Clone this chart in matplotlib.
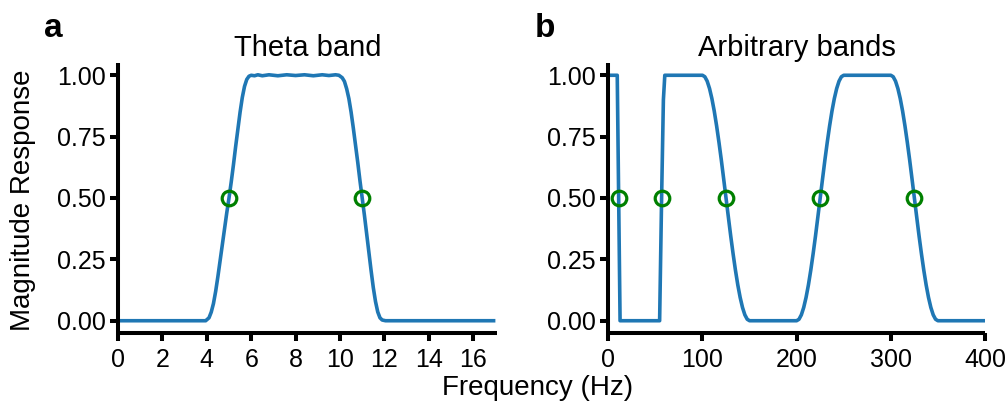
import matplotlib
matplotlib.use("Agg")
import matplotlib.pyplot as plt

plt.rcParams['font.family'] = ['Liberation Sans', 'DejaVu Sans']

# Panel a: theta band magnitude response
theta_freq = [0, 1, 2, 3, 3.5, 3.95, 4.1, 4.2, 4.3, 4.4, 4.5, 4.6, 4.7, 4.8, 4.9, 5.0, 5.1, 5.2, 5.3,
              5.4, 5.5, 5.6, 5.7, 5.8, 5.9, 6.0, 6.15, 6.3, 6.5, 6.8, 7.2, 7.6, 8.0, 8.4, 8.8, 9.2,
              9.5, 9.8, 9.95, 10.1, 10.2, 10.3, 10.4, 10.5, 10.6, 10.7, 10.8, 10.9, 11.0, 11.1, 11.2,
              11.3, 11.4, 11.5, 11.6, 11.7, 11.8, 11.9, 12.05, 12.5, 13, 14, 15, 16, 17]
theta_mag = [0, 0, 0, 0, 0, 0.0, 0.012, 0.035, 0.07, 0.12, 0.18, 0.245, 0.31, 0.375, 0.44, 0.5, 0.565,
             0.635, 0.71, 0.78, 0.85, 0.91, 0.955, 0.983, 0.996, 1.0, 0.998, 1.002, 0.998, 1.002, 0.998,
             1.002, 0.999, 1.002, 0.998, 1.002, 0.999, 1.002, 1.0, 0.99, 0.975, 0.945, 0.905, 0.85,
             0.785, 0.715, 0.645, 0.57, 0.5, 0.43, 0.355, 0.28, 0.205, 0.135, 0.078, 0.036, 0.012, 0.003, 0,
             0, 0, 0, 0, 0, 0]
theta_cut = [5, 11]

# Panel b: arbitrary bands magnitude response
arb_freq = [0, 5, 9.5, 11, 12.5, 30, 54.5, 56.6, 58.5, 60.0, 80,
            100, 102.5, 105, 107.5, 110, 112.5, 115, 117.5, 120, 122.5, 125, 127.5, 130, 132.5, 135,
            137.5, 140, 142.5, 145, 147.5, 150, 175,
            200, 202.5, 205, 207.5, 210, 212.5, 215, 217.5, 220, 222.5, 225, 227.5, 230, 232.5, 235,
            237.5, 240, 242.5, 245, 247.5, 250, 275,
            300, 302.5, 305, 307.5, 310, 312.5, 315, 317.5, 320, 322.5, 325, 327.5, 330, 332.5, 335,
            337.5, 340, 342.5, 345, 347.5, 350, 375, 400]
arb_mag = [1, 1, 1, 0.5, 0, 0, 0, 0.5, 0.9, 1, 1,
           1, 0.994, 0.976, 0.946, 0.905, 0.854, 0.794, 0.727, 0.655, 0.578, 0.5, 0.422, 0.345, 0.273,
           0.206, 0.146, 0.095, 0.054, 0.024, 0.006, 0, 0,
           0, 0.006, 0.024, 0.054, 0.095, 0.146, 0.206, 0.273, 0.345, 0.422, 0.5, 0.578, 0.655, 0.727,
           0.794, 0.854, 0.905, 0.946, 0.976, 0.994, 1, 1,
           1, 0.994, 0.976, 0.946, 0.905, 0.854, 0.794, 0.727, 0.655, 0.578, 0.5, 0.422, 0.345, 0.273,
           0.206, 0.146, 0.095, 0.054, 0.024, 0.006, 0, 0, 0]
arb_cut = [11, 57, 125, 225, 325]

titles = ["Theta band", "Arbitrary bands"]
panel_letters = ["a", "b"]
yticks = [0.0, 0.25, 0.5, 0.75, 1.0]
xticks_a = [0, 2, 4, 6, 8, 10, 12, 14, 16]
xticks_b = [0, 100, 200, 300, 400]

line_color = "#1f77b4"
marker_color = "#008000"

fig = plt.figure(figsize=(10.07, 4.13), dpi=100)
W, H = 1007, 413
ax_a = fig.add_axes([118/W, 1 - 333/H, (496.5 - 118)/W, (333 - 63)/H])
ax_b = fig.add_axes([608.3/W, 1 - 333/H, (985 - 608.3)/W, (333 - 63)/H])

for ax, fx, fy, cuts, title, xt, xlim in [
        (ax_a, theta_freq, theta_mag, theta_cut, titles[0], xticks_a, (0, 17.05)),
        (ax_b, arb_freq, arb_mag, arb_cut, titles[1], xticks_b, (0, 400))]:
    ax.plot(fx, fy, color=line_color, lw=2.6, solid_joinstyle='round', solid_capstyle='butt', zorder=2)
    ax.plot(cuts, [0.5] * len(cuts), linestyle='none', marker='o', markersize=10.5,
            markerfacecolor='none', markeredgecolor=marker_color, markeredgewidth=2.3, zorder=3)
    ax.set_xlim(*xlim)
    ax.set_ylim(-0.05, 1.05)
    ax.set_xticks(xt)
    ax.set_xticklabels([str(v) for v in xt])
    ax.set_yticks(yticks)
    ax.set_yticklabels([f"{v:.2f}" for v in yticks])
    for s in ['top', 'right']:
        ax.spines[s].set_visible(False)
    for s in ['left', 'bottom']:
        ax.spines[s].set_linewidth(2.9)
        ax.spines[s].set_capstyle('butt')
    ax.tick_params(axis='both', length=5.5, width=2.9, labelsize=18, pad=3.5, color='black')
    ax.tick_params(axis='x', pad=5)
    ax.set_title(title, fontsize=21, pad=5)
    ax.set_facecolor('none')

fig.text(23/W, 1 - 200/H, "Magnitude Response", rotation=90, ha='center', va='center', fontsize=20)
fig.text(538/W, 1 - 388/H, "Frequency (Hz)", ha='center', va='center', fontsize=20)
fig.text(44/W, 1 - 37/H, panel_letters[0], ha='left', va='baseline', fontsize=24, fontweight='bold')
fig.text(535/W, 1 - 37/H, panel_letters[1], ha='left', va='baseline', fontsize=24, fontweight='bold')

fig.savefig("out.png", dpi=100)
